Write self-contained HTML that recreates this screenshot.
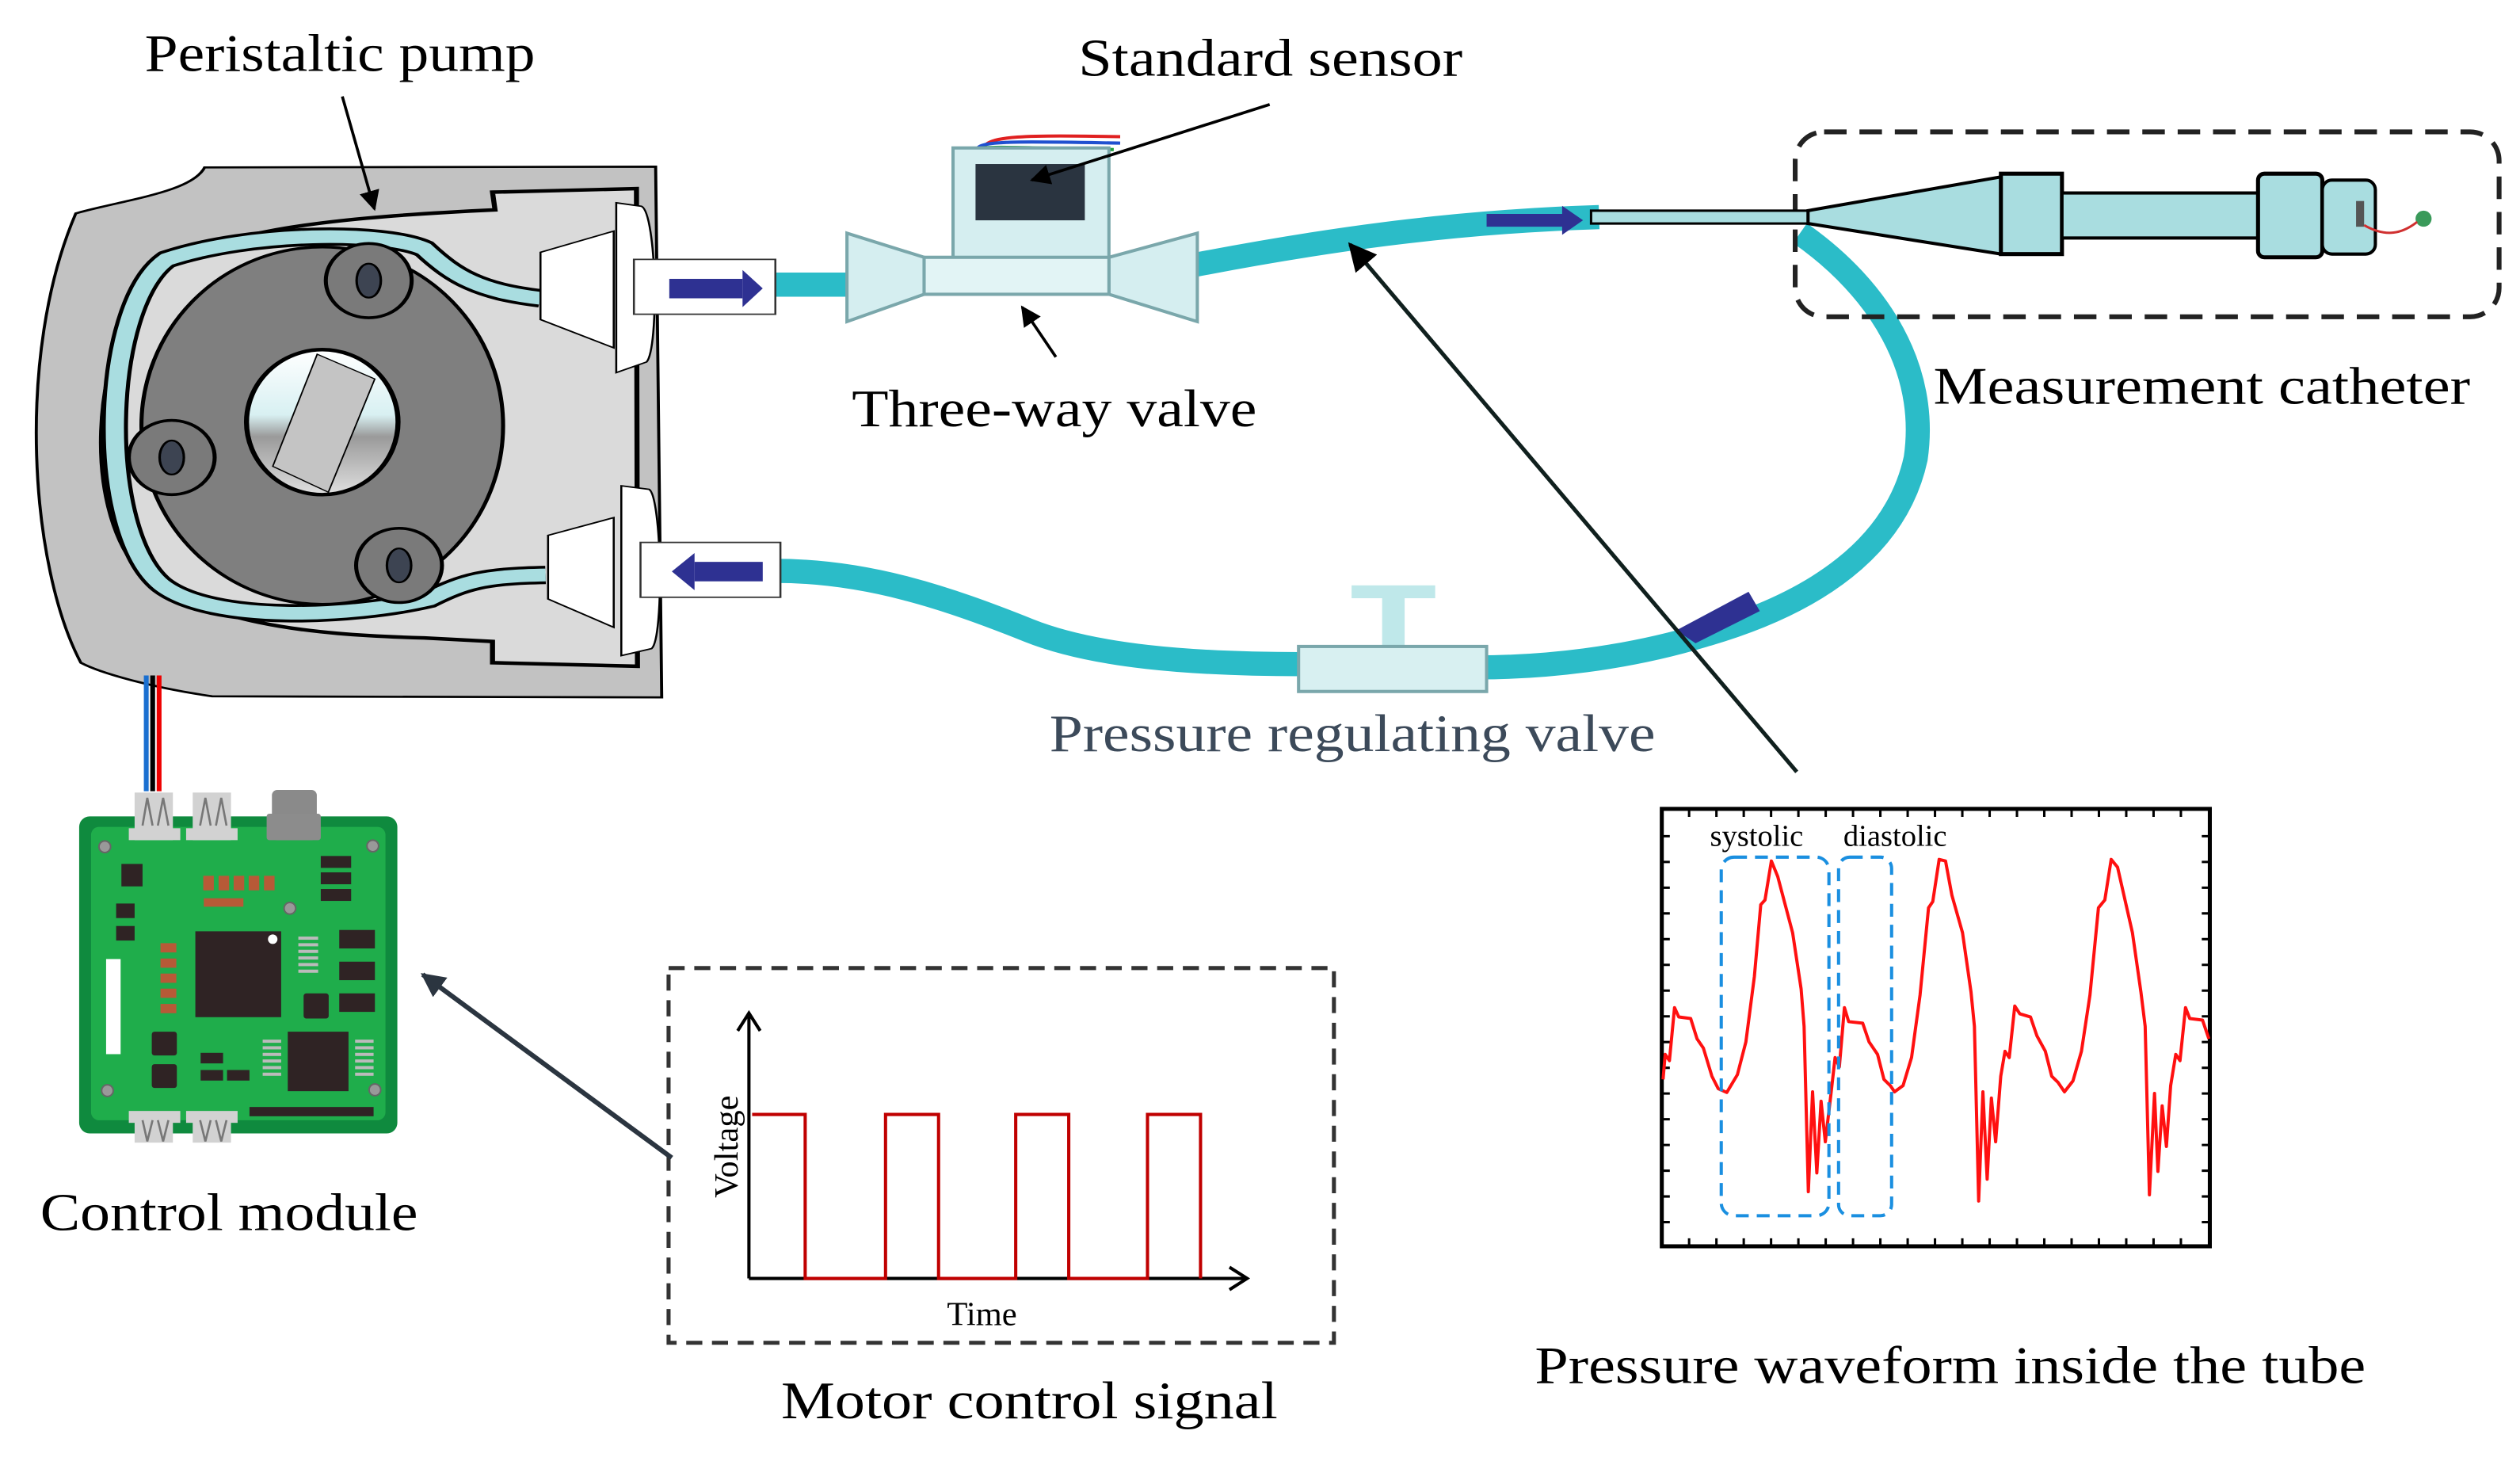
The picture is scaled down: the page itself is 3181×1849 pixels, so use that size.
<!DOCTYPE html>
<html><head><meta charset="utf-8"><style>html,body{margin:0;padding:0;background:#fff}svg{display:block}svg text{font-family:"Liberation Serif","Times New Roman",serif}</style></head>
<body>
<svg width="3181" height="1849" viewBox="0 0 1568 911" preserveAspectRatio="none" xmlns="http://www.w3.org/2000/svg">
<defs>
<linearGradient id="hub" x1="0" y1="0" x2="0" y2="1"><stop offset="0" stop-color="#ffffff"/><stop offset="0.45" stop-color="#d8f0f2"/><stop offset="0.6" stop-color="#9a9a9a"/><stop offset="1" stop-color="#e0e0e0"/></linearGradient>
<marker id="ah" viewBox="0 0 10 10" refX="9" refY="5" markerWidth="7" markerHeight="7" orient="auto"><path d="M0,0 L10,5 L0,10 z" fill="#000"/></marker>
<marker id="ah2" viewBox="0 0 10 10" refX="9" refY="5" markerWidth="5" markerHeight="5" orient="auto"><path d="M0,0 L10,5 L0,10 z" fill="#2b3540"/></marker>
</defs>

<g fill="none" stroke="#2bbcc8" stroke-width="15" stroke-linecap="butt">
<path d="M480,177 L530,177"/>
<path d="M742,165 C820,150 900,138 995,135"/>
<path d="M1120,145 C1170,180 1200,230 1192,285 C1180,340 1130,375 1060,395 C1010,410 960,415 920,415"/>
<path d="M810,413 C740,413 680,408 640,392 C590,372 540,355 483,355"/>
</g>
<path d="M925,133 L972,133 L972,128 L985,137 L972,146 L972,141 L925,141 Z" fill="#2e3192"/>
<path d="M1088,368 L1095,380 L1055,400 L1043,392 Z" fill="#2e3192"/>

<g transform="translate(0,88.7) scale(0.3143,0.22)">
<path d="M405,70 L1298,68 L1310,1568 L420,1565 C300,1540 200,1500 160,1470 C60,1200 30,600 150,200 C250,160 380,140 405,70 Z" fill="#c2c2c2" stroke="#000" stroke-width="6"/>
<path d="M975,140 L1260,130 L1262,1480 L975,1470 L975,1410 L840,1400 C600,1390 400,1360 270,1200 C170,1020 180,620 290,400 C380,260 600,215 980,190 Z" fill="#dadada" stroke="#000" stroke-width="10"/>
<path d="M1070,440 C950,420 900,380 840,300 C760,250 500,250 330,330 C200,460 190,1100 320,1250 C420,1360 700,1340 850,1290 C920,1240 960,1225 1080,1222" fill="none" stroke="#000" stroke-width="52"/>
<path d="M1070,440 C950,420 900,380 840,300 C760,250 500,250 330,330 C200,460 190,1100 320,1250 C420,1360 700,1340 850,1290 C920,1240 960,1225 1080,1222" fill="none" stroke="#a9dde0" stroke-width="36"/>
<ellipse cx="638" cy="800" rx="358" ry="505" fill="#7f7f7f" stroke="#000" stroke-width="8"/>
<ellipse cx="730" cy="390" rx="85" ry="105" fill="#7a7a7a" stroke="#000" stroke-width="8"/>
<ellipse cx="730" cy="390" rx="24" ry="48" fill="#3d4452" stroke="#000" stroke-width="5"/>
<ellipse cx="340" cy="890" rx="85" ry="105" fill="#7a7a7a" stroke="#000" stroke-width="8"/>
<ellipse cx="340" cy="890" rx="24" ry="48" fill="#3d4452" stroke="#000" stroke-width="5"/>
<ellipse cx="790" cy="1195" rx="85" ry="105" fill="#7a7a7a" stroke="#000" stroke-width="8"/>
<ellipse cx="790" cy="1195" rx="24" ry="48" fill="#3d4452" stroke="#000" stroke-width="5"/>
<ellipse cx="638" cy="790" rx="150" ry="205" fill="url(#hub)" stroke="#000" stroke-width="10"/>
<polygon points="628,598 742,668 650,988 540,915" fill="#c4c4c4" stroke="#000" stroke-width="3"/>
<polygon points="1070,310 1215,250 1215,580 1070,500" fill="#fff" stroke="#000" stroke-width="4"/>
<path d="M1220,170 L1270,180 C1300,200 1305,580 1280,620 L1220,650 Z" fill="#fff" stroke="#000" stroke-width="4"/>
<rect x="1255" y="330" width="280" height="155" fill="#fff" stroke="#333" stroke-width="4"/>
<rect x="1325" y="385" width="145" height="55" fill="#2e3192"/>
<polygon points="1470,360 1510,412 1470,465" fill="#2e3192"/>
<polygon points="1085,1110 1215,1060 1215,1370 1085,1290" fill="#fff" stroke="#000" stroke-width="4"/>
<path d="M1230,970 L1285,980 C1310,1000 1315,1400 1290,1430 L1230,1450 Z" fill="#fff" stroke="#000" stroke-width="4"/>
<rect x="1268" y="1130" width="277" height="155" fill="#fff" stroke="#333" stroke-width="4"/>
<rect x="1375" y="1185" width="135" height="55" fill="#2e3192"/>
<polygon points="1375,1160 1330,1212 1375,1265" fill="#2e3192"/>
</g>
<line x1="91" y1="420" x2="91" y2="492" stroke="#1a6fd0" stroke-width="3"/>
<line x1="95" y1="420" x2="95" y2="492" stroke="#000" stroke-width="3"/>
<line x1="99" y1="420" x2="99" y2="492" stroke="#e00" stroke-width="3"/>

<path d="M612,93 C612,84 640,84 697,85" fill="none" stroke="#e02020" stroke-width="2"/>
<path d="M608,93 C608,87 640,88 697,89" fill="none" stroke="#2050d0" stroke-width="2"/>
<path d="M604,94 C604,90 640,92 693,93" fill="none" stroke="#20a040" stroke-width="2"/>
<rect x="593" y="92" width="97" height="70" fill="#d5eef0" stroke="#7aa7ab" stroke-width="2"/>
<rect x="607" y="102" width="68" height="35" fill="#2a3440"/>
<polygon points="527,145 575,160 575,183 527,200" fill="#d5eef0" stroke="#7aa7ab" stroke-width="2"/>
<polygon points="745,145 690,160 690,183 745,200" fill="#d5eef0" stroke="#7aa7ab" stroke-width="2"/>
<rect x="575" y="160" width="115" height="23" fill="#e2f4f5" stroke="#7aa7ab" stroke-width="2"/>

<rect x="841" y="364" width="52" height="8" fill="#bfe8ea"/>
<rect x="860" y="370" width="14" height="32" fill="#bfe8ea"/>
<rect x="808" y="402" width="117" height="28" fill="#d8f0f1" stroke="#7aa7ab" stroke-width="2"/>

<rect x="1117" y="82" width="438" height="115" rx="18" fill="none" stroke="#222" stroke-width="3" stroke-dasharray="14,8"/>
<rect x="990" y="131" width="135" height="8" fill="#a9dde0" stroke="#000" stroke-width="1.5"/>
<polygon points="1125,131 1245,110 1245,158 1125,139" fill="#a9dde0" stroke="#000" stroke-width="2"/>
<rect x="1245" y="108" width="38" height="50" fill="#a9dde0" stroke="#000" stroke-width="2.5"/>
<rect x="1283" y="120" width="122" height="28" fill="#a9dde0" stroke="#000" stroke-width="2"/>
<rect x="1405" y="108" width="40" height="52" rx="4" fill="#a9dde0" stroke="#000" stroke-width="2.5"/>
<rect x="1445" y="112" width="33" height="46" rx="6" fill="#a9dde0" stroke="#000" stroke-width="2"/>
<rect x="1466" y="125" width="5" height="16" fill="#555"/>
<circle cx="1508" cy="136" r="5" fill="#3a9a5a"/>
<path d="M1471,140 C1485,148 1495,145 1504,138" fill="none" stroke="#d03030" stroke-width="1.5"/>

<g transform="translate(39.4,483) scale(0.1643)">
<rect x="60" y="150" width="1205" height="1200" rx="40" fill="#0f8a3e"/>
<rect x="105" y="190" width="1115" height="1110" rx="30" fill="#1fad4b"/>
<g fill="#d2d2d2"><rect x="270" y="60" width="145" height="180"/><rect x="248" y="195" width="195" height="45"/><rect x="490" y="60" width="145" height="180"/><rect x="465" y="195" width="195" height="45"/>
<rect x="270" y="1285" width="145" height="100"/><rect x="248" y="1265" width="195" height="45"/><rect x="490" y="1285" width="145" height="100"/><rect x="465" y="1265" width="195" height="45"/></g>
<g fill="none" stroke="#777" stroke-width="8"><path d="M300,185 L318,80 L338,185 M358,185 L378,80 L398,185 M518,185 L538,80 L558,185 M578,185 L598,80 L618,185"/><path d="M300,1300 L318,1380 L338,1300 M358,1300 L378,1380 L398,1300 M518,1300 L538,1380 L558,1300 M578,1300 L598,1380 L618,1300"/></g>
<rect x="790" y="50" width="170" height="190" rx="20" fill="#8a8a8a"/><rect x="770" y="140" width="205" height="100" rx="10" fill="#8c8c8c"/>
<g fill="#999" stroke="#666" stroke-width="6"><circle cx="157" cy="265" r="22"/><circle cx="1172" cy="262" r="22"/><circle cx="858" cy="498" r="22"/><circle cx="167" cy="1188" r="22"/><circle cx="1180" cy="1185" r="22"/></g>
<g fill="#2f2324"><rect x="500" y="585" width="325" height="325"/><rect x="850" y="965" width="230" height="225"/><rect x="220" y="330" width="80" height="85"/><rect x="200" y="480" width="70" height="55"/><rect x="200" y="565" width="70" height="55"/>
<rect x="335" y="965" width="95" height="90" rx="10"/><rect x="335" y="1088" width="95" height="90" rx="10"/><rect x="910" y="820" width="95" height="95" rx="10"/>
<rect x="1045" y="580" width="135" height="70"/><rect x="1045" y="700" width="135" height="70"/><rect x="1045" y="820" width="135" height="70"/>
<rect x="975" y="300" width="115" height="45"/><rect x="975" y="362" width="115" height="45"/><rect x="975" y="425" width="115" height="45"/>
<rect x="705" y="1250" width="470" height="35"/><rect x="520" y="1045" width="85" height="40"/><rect x="520" y="1110" width="85" height="40"/><rect x="620" y="1110" width="85" height="40"/></g>
<circle cx="793" cy="615" r="18" fill="#fff"/>
<g fill="#b75a37"><rect x="530" y="375" width="40" height="55"/><rect x="588" y="375" width="40" height="55"/><rect x="645" y="375" width="40" height="55"/><rect x="702" y="375" width="40" height="55"/><rect x="760" y="375" width="40" height="55"/>
<rect x="368" y="630" width="60" height="35"/><rect x="368" y="688" width="60" height="35"/><rect x="368" y="745" width="60" height="35"/><rect x="368" y="802" width="60" height="35"/><rect x="368" y="860" width="60" height="35"/>
<rect x="532" y="460" width="150" height="32"/></g>
<g fill="#bbb"><rect x="890" y="605" width="75" height="12"/><rect x="890" y="630" width="75" height="12"/><rect x="890" y="655" width="75" height="12"/><rect x="890" y="680" width="75" height="12"/><rect x="890" y="705" width="75" height="12"/><rect x="890" y="730" width="75" height="12"/>
<rect x="755" y="995" width="70" height="12"/><rect x="755" y="1020" width="70" height="12"/><rect x="755" y="1045" width="70" height="12"/><rect x="755" y="1070" width="70" height="12"/><rect x="755" y="1095" width="70" height="12"/><rect x="755" y="1120" width="70" height="12"/>
<rect x="1105" y="995" width="70" height="12"/><rect x="1105" y="1020" width="70" height="12"/><rect x="1105" y="1045" width="70" height="12"/><rect x="1105" y="1070" width="70" height="12"/><rect x="1105" y="1095" width="70" height="12"/><rect x="1105" y="1120" width="70" height="12"/></g>
<rect x="162" y="690" width="55" height="360" fill="#fff"/>
</g>

<rect x="416" y="602" width="414" height="233" fill="none" stroke="#333" stroke-width="2.5" stroke-dasharray="10,6"/>
<line x1="466" y1="795" x2="466" y2="632" stroke="#000" stroke-width="2"/>
<polyline points="459,641 466,630 473,641" fill="none" stroke="#000" stroke-width="2"/>
<line x1="466" y1="795" x2="775" y2="795" stroke="#000" stroke-width="2"/>
<polyline points="765,788 776,795 765,802" fill="none" stroke="#000" stroke-width="2"/>
<polyline points="468,693 501,693 501,795 551,795 551,693 584,693 584,795 632,795 632,693 665,693 665,795 714,795 714,693 747,693 747,795" fill="none" stroke="#c00000" stroke-width="2"/>
<text x="459" y="713" font-size="21" text-anchor="middle" transform="rotate(-90 459 713)">Voltage</text>
<text x="611" y="824" font-size="21" text-anchor="middle">Time</text>

<rect x="1034" y="503" width="341" height="272" fill="#fff" stroke="#000" stroke-width="2.5"/>
<g stroke="#000" stroke-width="1.5">
<path d="M1034,520h5M1034,536h5M1034,552h5M1034,568h5M1034,584h5M1034,600h5M1034,616h5M1034,632h5M1034,648h5M1034,664h5M1034,680h5M1034,696h5M1034,712h5M1034,728h5M1034,744h5M1034,760h5"/>
<path d="M1375,520h-5M1375,536h-5M1375,552h-5M1375,568h-5M1375,584h-5M1375,600h-5M1375,616h-5M1375,632h-5M1375,648h-5M1375,664h-5M1375,680h-5M1375,696h-5M1375,712h-5M1375,728h-5M1375,744h-5M1375,760h-5"/>
<path d="M1051,503v5M1068,503v5M1085,503v5M1102,503v5M1119,503v5M1136,503v5M1153,503v5M1170,503v5M1187,503v5M1204,503v5M1221,503v5M1238,503v5M1255,503v5M1272,503v5M1289,503v5M1306,503v5M1323,503v5M1340,503v5M1357,503v5"/>
<path d="M1051,775v-5M1068,775v-5M1085,775v-5M1102,775v-5M1119,775v-5M1136,775v-5M1153,775v-5M1170,775v-5M1187,775v-5M1204,775v-5M1221,775v-5M1238,775v-5M1255,775v-5M1272,775v-5M1289,775v-5M1306,775v-5M1323,775v-5M1340,775v-5M1357,775v-5"/>
</g>
<g transform="translate(1034,503) scale(0.2643,0.194) translate(-182,-103)">
<polyline vector-effect="non-scaling-stroke" fill="none" stroke="#ff1010" stroke-width="4" stroke-linejoin="round" points="185,970 190,890 200,910 212,740 222,770 250,775 265,840 280,870 300,960 315,1000 335,1012 360,955 380,850 400,640 415,410 425,395 440,270 455,320 490,500 510,680 517,800 527,1330 537,1010 547,1270 557,1040 567,1170 580,1020 590,900 600,930 612,740 622,785 655,790 670,850 690,890 705,970 720,990 730,1010 750,990 770,900 790,700 810,420 820,400 835,265 850,270 865,380 890,500 910,690 918,800 928,1360 938,1010 948,1290 958,1030 968,1170 980,960 990,880 1000,900 1013,735 1025,760 1050,770 1065,830 1085,880 1100,960 1115,980 1130,1010 1150,975 1170,880 1190,700 1210,420 1225,395 1240,265 1255,290 1270,380 1290,500 1310,690 1320,800 1330,1340 1342,1015 1350,1265 1360,1055 1370,1185 1380,990 1392,890 1402,910 1415,740 1425,775 1455,780 1470,840"/>
</g>
<rect x="1071" y="533" width="67" height="223" rx="8" fill="none" stroke="#1a8fe0" stroke-width="2" stroke-dasharray="8,5"/>
<rect x="1144" y="533" width="33" height="223" rx="7" fill="none" stroke="#1a8fe0" stroke-width="2" stroke-dasharray="8,5"/>
<text x="1064" y="526" font-size="19">systolic</text>
<text x="1147" y="526" font-size="19">diastolic</text>

<line x1="213" y1="60" x2="233" y2="130" stroke="#000" stroke-width="1.8" marker-end="url(#ah)"/>
<line x1="790" y1="65" x2="642" y2="112" stroke="#000" stroke-width="1.8" marker-end="url(#ah)"/>
<line x1="657" y1="222" x2="636" y2="191" stroke="#000" stroke-width="1.8" marker-end="url(#ah)"/>
<line x1="1118" y1="480" x2="840" y2="152" stroke="#10201e" stroke-width="2.5" marker-end="url(#ah)"/>
<line x1="418" y1="720" x2="263" y2="606" stroke="#2b3540" stroke-width="3" marker-end="url(#ah2)"/>

<g font-size="33" fill="#000">
<text x="90" y="44" textLength="243" lengthAdjust="spacingAndGlyphs">Peristaltic pump</text>
<text x="671" y="47" textLength="239" lengthAdjust="spacingAndGlyphs">Standard sensor</text>
<text x="530" y="265" textLength="252" lengthAdjust="spacingAndGlyphs">Three-way valve</text>
<text x="1203" y="251" textLength="334" lengthAdjust="spacingAndGlyphs">Measurement catheter</text>
<text x="653" y="467" textLength="377" lengthAdjust="spacingAndGlyphs" fill="#3c4a5a">Pressure regulating valve</text>
<text x="25" y="765" textLength="235" lengthAdjust="spacingAndGlyphs">Control module</text>
<text x="486" y="882" textLength="309" lengthAdjust="spacingAndGlyphs">Motor control signal</text>
<text x="955" y="860" textLength="517" lengthAdjust="spacingAndGlyphs">Pressure waveform inside the tube</text>
</g>
</svg>
</body></html>
